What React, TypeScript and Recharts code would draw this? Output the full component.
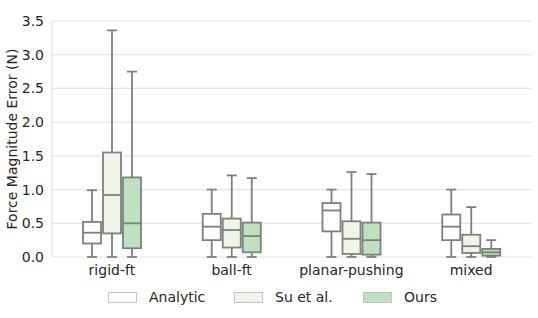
import { Bar, BarChart, CartesianGrid, Legend, XAxis, YAxis } from "recharts";

const categories = ["rigid-ft", "ball-ft", "planar-pushing", "mixed"];
// per category: [low whisker, Q1, median, Q3, high whisker]
const analytic = [
  [0, 0.2, 0.36, 0.52, 0.99],
  [0, 0.25, 0.45, 0.64, 1.0],
  [0, 0.38, 0.69, 0.8, 1.0],
  [0, 0.25, 0.45, 0.63, 1.0],
];
const suEtAl = [
  [0, 0.35, 0.92, 1.55, 3.36],
  [0, 0.14, 0.4, 0.57, 1.21],
  [0, 0.045, 0.27, 0.53, 1.26],
  [0, 0.06, 0.16, 0.33, 0.74],
];
const ours = [
  [0, 0.13, 0.5, 1.18, 2.75],
  [0, 0.07, 0.31, 0.51, 1.17],
  [0, 0.035, 0.25, 0.51, 1.23],
  [0, 0.02, 0.07, 0.12, 0.25],
];
const yTicks = [0, 0.5, 1, 1.5, 2, 2.5, 3, 3.5];

const series = [
  { key: "analytic", name: "Analytic", fill: "#ffffff", stats: analytic },
  { key: "su", name: "Su et al.", fill: "#eff5e8", stats: suEtAl },
  { key: "ours", name: "Ours", fill: "#bfe0c1", stats: ours },
];

const data = categories.map((cat, i) => {
  const row: Record<string, unknown> = { cat };
  series.forEach((s) => {
    const st = s.stats[i];
    row[s.key] = [st[0], st[4]];
    row[s.key + "Stats"] = st;
  });
  return row;
});

const STROKE = "#7f7f7f";
const FONT = "DejaVu Sans, sans-serif";

function BoxShape(props: any) {
  const { x, y, width, height, payload, statsKey, fill } = props;
  const [lo, q1, med, q3, hi] = payload[statsKey] as number[];
  const k = height / (hi - lo);
  const py = (v: number) => y + (hi - v) * k;
  const cx = x + width / 2;
  const left = x + 1;
  const right = x + width - 1;
  const cap = width / 4;
  return (
    <g stroke={STROKE} strokeWidth={1.8} fill="none">
      <line x1={cx} x2={cx} y1={py(hi)} y2={py(q3)} />
      <line x1={cx} x2={cx} y1={py(q1)} y2={py(lo)} />
      <line x1={cx - cap} x2={cx + cap} y1={py(hi)} y2={py(hi)} />
      <line x1={cx - cap} x2={cx + cap} y1={py(lo)} y2={py(lo)} />
      <rect x={left} y={py(q3)} width={right - left} height={py(q1) - py(q3)} fill={fill} />
      <line x1={left} x2={right} y1={py(med)} y2={py(med)} />
    </g>
  );
}

function LegendContent() {
  const xs = [108, 234, 363];
  return (
    <div style={{ position: "relative", width: 538, height: 30, fontFamily: FONT, fontSize: 14, color: "#262626" }}>
      {series.map((s, i) => (
        <div key={s.key} style={{ position: "absolute", left: xs[i], top: 12, display: "flex", alignItems: "center" }}>
          <div style={{ width: 27, height: 9, background: s.fill, border: `1px solid #c4c4c4` }} />
          <span style={{ marginLeft: 12, lineHeight: "12px" }}>{s.name}</span>
        </div>
      ))}
    </div>
  );
}

function YLabel(props: any) {
  const { viewBox } = props;
  const cy = viewBox.y + viewBox.height / 2;
  return (
    <text
      x={12}
      y={cy}
      transform={`rotate(-90, 12, ${cy})`}
      textAnchor="middle"
      dominantBaseline="central"
      fontFamily={FONT}
      fontSize={14}
      fill="#262626"
    >
      Force Magnitude Error (N)
    </text>
  );
}

export default function App() {
  return (
    <div style={{ position: "fixed", left: 0, top: 0, width: 538, height: 318, background: "#fff" }}>
      <BarChart
        width={538}
        height={318}
        data={data}
        barSize={20}
        barGap={0}
        margin={{ top: 21, right: 7, bottom: 9, left: 0 }}
      >
        <CartesianGrid vertical={false} stroke="#e4e4e4" strokeWidth={1.2} />
        <XAxis
          dataKey="cat"
          height={22}
          tickLine={false}
          axisLine={false}
          tick={{ fontFamily: FONT, fontSize: 14, fill: "#262626" }}
        />
        <YAxis
          width={52}
          domain={[0, 3.5]}
          ticks={yTicks}
          tickFormatter={(v: number) => v.toFixed(1)}
          tickLine={false}
          axisLine={{ stroke: "#e0e0e0", strokeWidth: 1.2 }}
          tick={{ fontFamily: FONT, fontSize: 14, fill: "#262626" }}
          label={<YLabel />}
        />
        <YAxis
          yAxisId="r"
          orientation="right"
          width={0}
          domain={[0, 3.5]}
          tick={false}
          tickLine={false}
          axisLine={{ stroke: "#e0e0e0", strokeWidth: 1.2 }}
        />
        <Legend verticalAlign="bottom" content={<LegendContent />} wrapperStyle={{ left: 0, width: 538 }} />
        {series.map((s) => (
          <Bar
            key={s.key}
            dataKey={s.key}
            name={s.name}
            fill={s.fill}
            isAnimationActive={false}
            shape={(p: any) => <BoxShape {...p} statsKey={s.key + "Stats"} fill={s.fill} />}
          />
        ))}
      </BarChart>
    </div>
  );
}
